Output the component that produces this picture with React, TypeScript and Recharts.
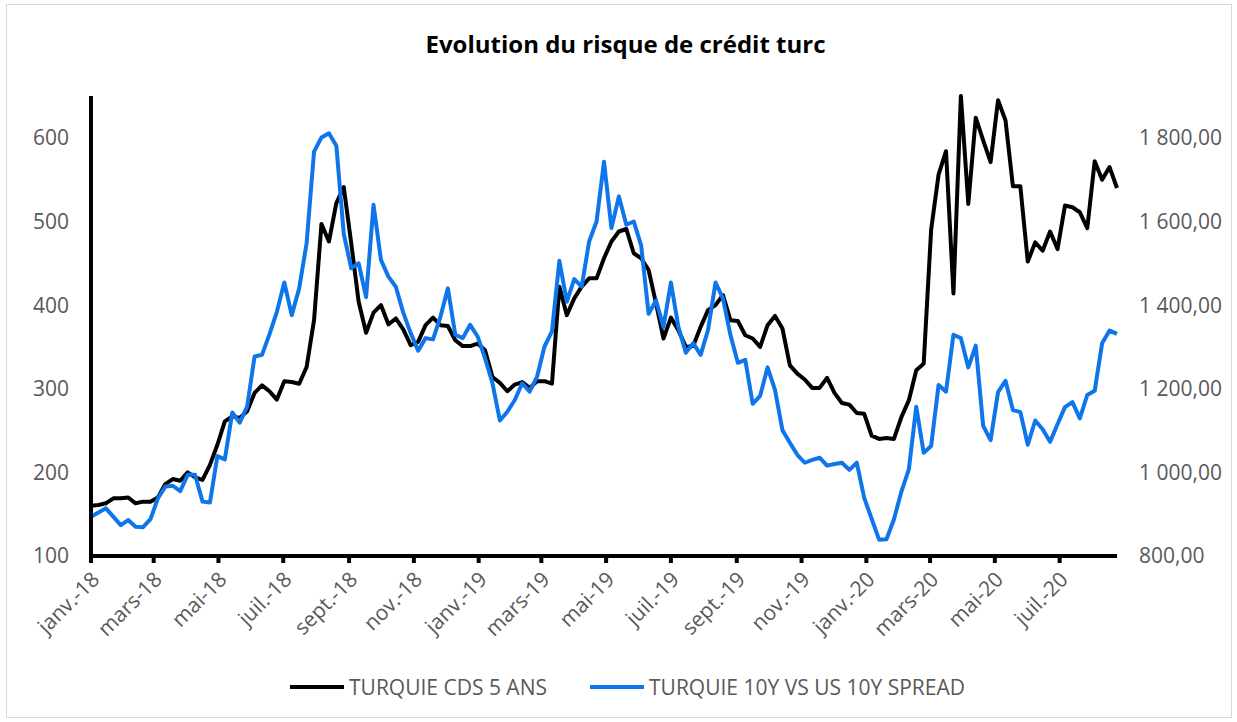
import React from 'react'
import { LineChart, Line, XAxis, YAxis } from 'recharts'

// weekly observations, first one on 1 Jan 2018
const START = Date.UTC(2018, 0, 1)
const DAY = 86400000

const cds5y = [
  160, 161, 163, 169, 169, 170, 163, 165, 165, 170,
  186, 192, 190, 200, 194, 191, 209, 233, 261, 267,
  265, 273, 295, 304, 297, 287, 309, 308, 306, 326,
  382, 497, 476, 522, 541, 474, 404, 367, 391, 400,
  377, 384, 371, 352, 356, 376, 385, 376, 375, 358,
  351, 351, 354, 346, 314, 307, 297, 305, 308, 301,
  309, 309, 306, 422, 388, 408, 422, 432, 432, 456,
  476, 488, 491, 462, 456, 442, 402, 360, 385, 370,
  350, 351, 374, 394, 400, 412, 382, 381, 364, 360,
  350, 376, 387, 372, 328, 318, 311, 301, 301, 313,
  295, 283, 281, 271, 270, 244, 240, 241, 240, 266,
  286, 322, 330, 490, 556, 584, 414, 650, 521, 624,
  597, 571, 645, 621, 542, 542, 452, 475, 465, 488,
  467, 519, 517, 511, 492, 572, 550, 565, 540,
]

const spread10y = [
  894, 904, 914, 894, 874, 886, 870, 869, 888, 938,
  966, 968, 955, 994, 994, 930, 928, 1039, 1031, 1143,
  1119, 1157, 1277, 1281, 1330, 1384, 1454, 1376, 1440, 1548,
  1767, 1801, 1811, 1781, 1570, 1488, 1500, 1419, 1640, 1508,
  1468, 1444, 1382, 1333, 1291, 1321, 1318, 1372, 1440, 1329,
  1321, 1353, 1325, 1273, 1213, 1124, 1145, 1173, 1213, 1193,
  1229, 1301, 1337, 1506, 1408, 1462, 1444, 1552, 1600, 1743,
  1584, 1660, 1592, 1600, 1542, 1379, 1411, 1348, 1454, 1348,
  1286, 1309, 1281, 1341, 1454, 1416, 1329, 1262, 1269, 1164,
  1183, 1251, 1197, 1101, 1071, 1042, 1023, 1030, 1035, 1016,
  1020, 1023, 1006, 1023, 939, 889, 839, 840, 888, 954,
  1007, 1157, 1047, 1063, 1209, 1193, 1329, 1321, 1251, 1303,
  1111, 1077, 1192, 1219, 1149, 1144, 1066, 1124, 1103, 1073,
  1115, 1156, 1168, 1129, 1185, 1195, 1309, 1339, 1331,
]

const monthDates = [
  '2018-01-01', '2018-03-01', '2018-05-01', '2018-07-01', '2018-09-01', '2018-11-01',
  '2019-01-01', '2019-03-01', '2019-05-01', '2019-07-01', '2019-09-01', '2019-11-01',
  '2020-01-01', '2020-03-01', '2020-05-01', '2020-07-01',
]
const monthLabels = [
  'janv.-18', 'mars-18', 'mai-18', 'juil.-18', 'sept.-18', 'nov.-18',
  'janv.-19', 'mars-19', 'mai-19', 'juil.-19', 'sept.-19', 'nov.-19',
  'janv.-20', 'mars-20', 'mai-20', 'juil.-20',
]
const leftTicks = [100, 200, 300, 400, 500, 600]
const rightTicks = [800, 1000, 1200, 1400, 1600, 1800]

const data = cds5y.map((v, i) => ({ day: i * 7, cds: v, spread: spread10y[i] }))
const tickDays = monthDates.map((d) => Math.round((Date.parse(d) - START) / DAY))

const FONT = '"Open Sans", sans-serif'
const GREY = '#595959'
const BLUE = '#0F75EA'

const frNumber = (v: number) => {
  const s = v >= 1000 ? `${Math.floor(v / 1000)} ${String(v % 1000).padStart(3, '0')}` : String(v)
  return `${s},00`
}

function MonthTick({ x, y, payload }: any) {
  const label = monthLabels[tickDays.indexOf(payload.value)]
  const ax = x + 4
  const ay = y + 2
  return (
    <text
      x={ax}
      y={ay}
      transform={`rotate(-45, ${ax}, ${ay})`}
      textAnchor="end"
      dominantBaseline="central"
      fill={GREY}
      fontSize={21}
      fontFamily={FONT}
    >
      {label}
    </text>
  )
}

function LegendItem({ color, label, left }: { color: string; label: string; left: number }) {
  return (
    <div style={{ position: 'absolute', left, top: 0, display: 'flex', alignItems: 'center', whiteSpace: 'nowrap' }}>
      <div style={{ width: 54, height: 4, background: color, marginRight: 5 }} />
      <span>{label}</span>
    </div>
  )
}

export default function App() {
  return (
    <div style={{ position: 'absolute', left: 0, top: 0, width: 1237, height: 722, background: '#fff', fontFamily: FONT }}>
      <div style={{ position: 'absolute', left: 6, top: 4, width: 1224, height: 712, border: '1px solid #d9d9d9' }} />
      <div style={{ position: 'absolute', left: 7, top: 27, width: 1237, textAlign: 'center', fontSize: 24, fontWeight: 700, color: '#000' }}>
        Evolution du risque de crédit turc
      </div>
      <div style={{ position: 'absolute', left: 0, top: 0 }}>
        <LineChart width={1237} height={722} data={data} margin={{ top: 96, right: 0, bottom: 66, left: 0 }}>
          <XAxis
            dataKey="day"
            type="number"
            domain={[0, 966]}
            ticks={tickDays}
            interval={0}
            height={100}
            axisLine={{ stroke: '#000', strokeWidth: 4 }}
            tickLine={{ stroke: '#000', strokeWidth: 4 }}
            tickSize={7}
            tickMargin={10}
            tick={<MonthTick />}
          />
          <YAxis
            yAxisId="left"
            domain={[100, 650]}
            ticks={leftTicks}
            interval={0}
            width={91}
            axisLine={{ stroke: '#000', strokeWidth: 4 }}
            tickLine={false}
            tickSize={0}
            tickMargin={22}
            tick={{ fill: GREY, fontSize: 21, fontFamily: FONT }}
          />
          <YAxis
            yAxisId="right"
            orientation="right"
            domain={[800, 1900]}
            ticks={rightTicks}
            interval={0}
            width={120}
            axisLine={false}
            tickLine={false}
            tickSize={0}
            tickMargin={22}
            tickFormatter={frNumber}
            tick={{ fill: GREY, fontSize: 21, fontFamily: FONT }}
          />
          <Line
            yAxisId="left"
            type="linear"
            dataKey="cds"
            name="TURQUIE CDS 5 ANS"
            stroke="#000"
            strokeWidth={4}
            strokeLinejoin="round"
            dot={false}
            isAnimationActive={false}
          />
          <Line
            yAxisId="right"
            type="linear"
            dataKey="spread"
            name="TURQUIE 10Y VS US 10Y SPREAD"
            stroke={BLUE}
            strokeWidth={4}
            strokeLinejoin="round"
            dot={false}
            isAnimationActive={false}
          />
        </LineChart>
      </div>
      <div style={{ position: 'absolute', left: 0, top: 673, width: 1237, height: 30, fontSize: 21, color: GREY }}>
        <LegendItem color="#000" label="TURQUIE CDS 5 ANS" left={290} />
        <LegendItem color={BLUE} label="TURQUIE 10Y VS US 10Y SPREAD" left={590} />
      </div>
    </div>
  )
}
